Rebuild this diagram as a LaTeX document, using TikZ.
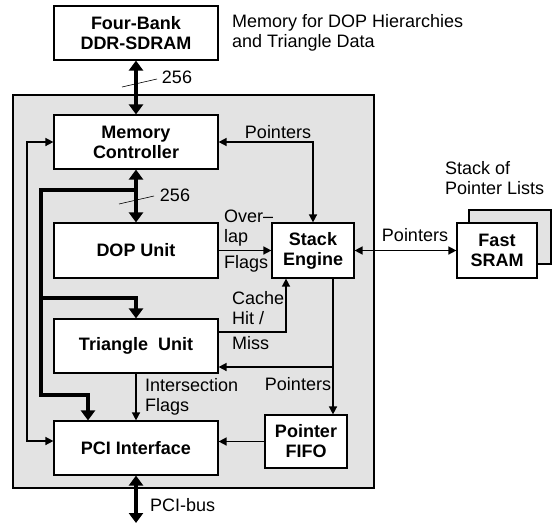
\documentclass[tikz,border=0pt]{standalone}
\usepackage{fontspec}
\setmainfont{Liberation Sans}
\usetikzlibrary{arrows.meta}

\tikzset{
  unit/.style={draw, fill=white, line width=1.2pt, minimum width=164pt, minimum height=54pt, inner sep=0pt, align=center, font=\fontsize{18}{20}\selectfont\bfseries},
  small unit/.style={unit, minimum width=82pt},
  sig/.style={line width=1.5pt, -{Triangle[length=8pt,width=8pt]}},
  sigboth/.style={line width=1.5pt, {Triangle[length=8pt,width=8pt]}-{Triangle[length=8pt,width=8pt]}},
  bus/.style={line width=4pt, -{Triangle[length=10pt,width=14pt]}},
  busboth/.style={line width=4pt, {Triangle[length=10pt,width=14pt]}-{Triangle[length=10pt,width=14pt]}},
  txt/.style={inner sep=0pt, align=left, font=\fontsize{18}{20}\selectfont},
  slash/.style={line width=0.6pt},
}

\begin{document}
\begin{tikzpicture}[x=1pt, y=-1pt, font=\fontsize{18}{20}\selectfont]
\useasboundingbox (0,0) rectangle (552,525);

% --- chip ---
  \node[draw, fill=black!11, line width=1.6pt, minimum width=361pt, minimum height=393pt] (chip) at (193.5,291.5) {};

% external memory
  \node[unit] (ddr) at (136,33) {Four-Bank\\DDR-SDRAM};
  \node[txt, anchor=west] (ddrnote) at (232,33) {Memory for DOP Hierarchies\\and Triangle Data};

% units on the chip
  \node[unit] (mc) at (136,142) {Memory\\Controller};
  \node[unit, minimum height=55pt] (dop) at (136,250.5) {DOP Unit};
  \node[unit] (tri) at (136,346) {Triangle\ \ Unit};
  \node[unit] (pci) at (136,448) {PCI Interface};
  \node[small unit, minimum height=55pt] (stack) at (313,250.5) {Stack\\Engine};
  \node[small unit, minimum height=53pt] (fifo) at (306,441.5) {Pointer\\FIFO};

% fast sram (stacked)
  \node[small unit, fill=black!11] (sramback) at (510,237) {};
  \node[unit, minimum width=80pt, minimum height=55pt] (sram) at (497,250.5) {Fast\\SRAM};
  \node[txt, anchor=west] (stacknote) at (445,178) {Stack of\\Pointer Lists};

% wide buses
  \draw[busboth] (ddr.south) -- (mc.north);
  \draw[slash] (122,87) -- (157,79);
  \node (w1) at (177,77) {256};
  \draw[busboth] (mc.south) -- (dop.north);
  \draw[slash] (119,204) -- (154,196);
  \node (w2) at (175,195) {256};

  \coordinate (busA) at (136,190);
  \coordinate (busL) at (41,190);
  \coordinate (busT) at (41,298);
  \coordinate (busP) at (41,395);
  \draw[bus] (busA) -- (busL) -- (busP) -| ([xshift=-48pt]pci.north);
  \draw[bus] (busT) -| (tri.north);

  \coordinate (pcibus) at (136,523);
  \draw[busboth] (pci.south) -- (pcibus);
  \node[txt, anchor=west] (pcilbl) at (150,505) {PCI-bus};

% control lines
  \coordinate (lft) at (27,142);
  \draw[sigboth] (mc.west) -- (lft) |- ([yshift=7pt]pci.west);

  \draw[sigboth] (mc.east) -| (stack.north);
  \node (p1) at (278,132) {Pointers};

  \draw[sig] (dop.east) -- (stack.west);
  \node[txt, anchor=west] (ovl) at (224,228) {Over–\\lap};
  \node[txt, anchor=west] (flg) at (224,264) {Flags};

  \draw[sig] ([yshift=14pt]tri.east) -| ([xshift=-27pt]stack.south);
  \node[txt, anchor=west] (hit) at (232,308) {Cache\\Hit /};
  \node[txt, anchor=west] (miss) at (232,343) {Miss};

  \coordinate (ptrjoin) at (333,367);
  \draw[sig] ([xshift=20pt]stack.south) -- ([xshift=20pt]stack.south |- fifo.north);
  \draw[sig] (ptrjoin) -- (ptrjoin -| tri.east);
  \node (p2) at (298,384) {Pointers};

  \draw[sig] (tri.south) -- (pci.north);
  \node[txt, anchor=west] (isf) at (145,397) {Intersection\\Flags};

  \draw[sig] (fifo.west) -- (fifo.west -| pci.east);

  \draw[sigboth] (stack.east) -- (sram.west);
  \node (p3) at (415,235) {Pointers};
\end{tikzpicture}
\end{document}
